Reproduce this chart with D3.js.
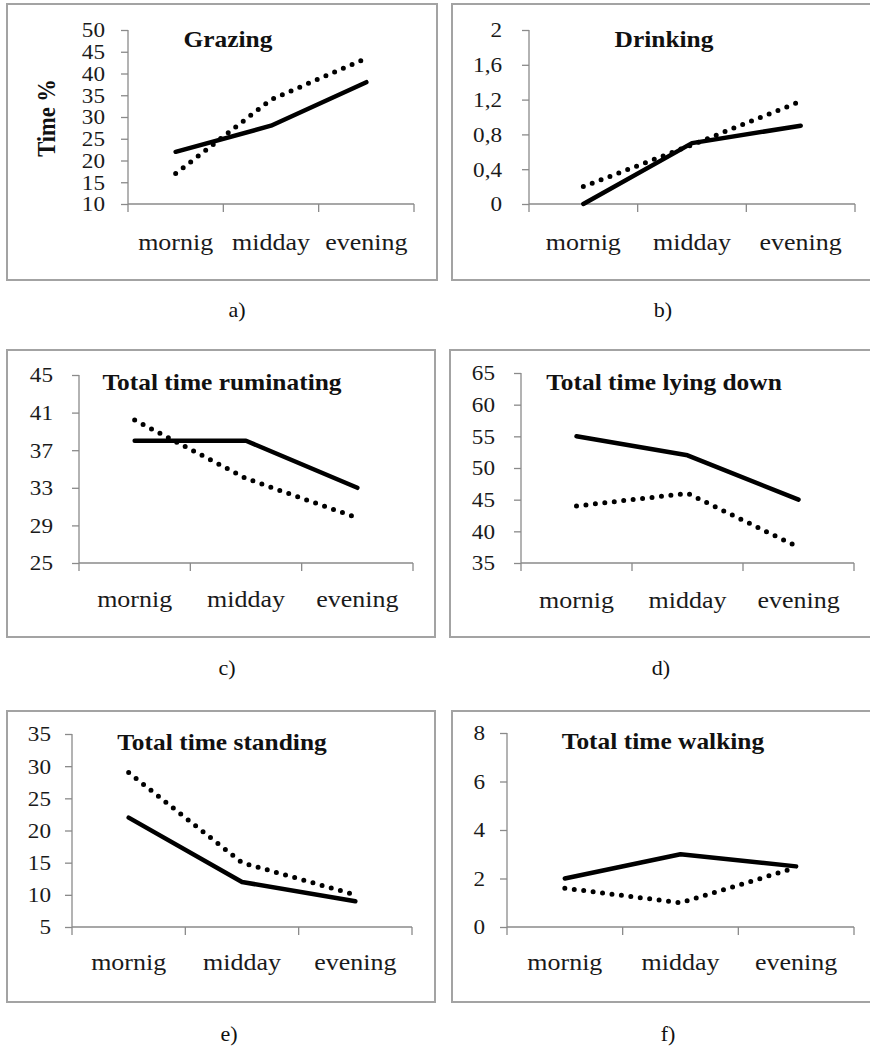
<!DOCTYPE html>
<html>
<head>
<meta charset="utf-8">
<script src="https://cdn.jsdelivr.net/npm/d3@7"></script>
<style>
html,body{margin:0;padding:0;background:#fff;}
svg{display:block;}
text{font-family:"Liberation Serif","Times New Roman",serif;fill:#111;}
</style>
</head>
<body>
<svg id="chart" width="870" height="1048"></svg>
<script>
// ---- data ----
const categories = ["mornig", "midday", "evening"];
const titles = ["Grazing", "Drinking", "Total time ruminating", "Total time lying down", "Total time standing", "Total time walking"];
const captions = ["a)", "b)", "c)", "d)", "e)", "f)"];
const yAxisTitle = "Time %";

const grazingSolid = [22, 28, 38];
const grazingDotted = [17, 34, 43.5];
const drinkingSolid = [0, 0.7, 0.9];
const drinkingDotted = [0.2, 0.68, 1.18];
const ruminatingSolid = [38, 38, 33];
const ruminatingDotted = [40.2, 34, 29.8];
const lyingSolid = [55, 52, 45];
const lyingDotted = [44, 46, 37.5];
const standingSolid = [22, 12, 9];
const standingDotted = [29, 15, 10];
const walkingSolid = [2, 3, 2.5];
const walkingDotted = [1.6, 1, 2.45];

const grazingTicks = [10, 15, 20, 25, 30, 35, 40, 45, 50];
const drinkingTicks = [0, 0.4, 0.8, 1.2, 1.6, 2];
const ruminatingTicks = [25, 29, 33, 37, 41, 45];
const lyingTicks = [35, 40, 45, 50, 55, 60, 65];
const standingTicks = [5, 10, 15, 20, 25, 30, 35];
const walkingTicks = [0, 2, 4, 6, 8];

const panelsData = [
  {solid: grazingSolid, dotted: grazingDotted, ticks: grazingTicks},
  {solid: drinkingSolid, dotted: drinkingDotted, ticks: drinkingTicks},
  {solid: ruminatingSolid, dotted: ruminatingDotted, ticks: ruminatingTicks},
  {solid: lyingSolid, dotted: lyingDotted, ticks: lyingTicks},
  {solid: standingSolid, dotted: standingDotted, ticks: standingTicks},
  {solid: walkingSolid, dotted: walkingDotted, ticks: walkingTicks}
];

// ---- layout ----
const layout = [
  {box:[7,4,437,280], ax:128, top:30, bot:204, right:414, titleX:228, titleY:47, xlabY:250, capX:237, capY:317, lblGap:23},
  {box:[452,4,880,280], ax:529, top:30, bot:204, right:855, titleX:664, titleY:47, xlabY:250, capX:663, capY:317, lblGap:27},
  {box:[7,350,435,637], ax:79, top:375, bot:563, right:413, titleX:222, titleY:390, xlabY:607, capX:227, capY:675, lblGap:26},
  {box:[450,350,880,637], ax:521, top:373, bot:563, right:854, titleX:664, titleY:390, xlabY:608, capX:661, capY:675, lblGap:26},
  {box:[7,711,435,1002], ax:72, top:734, bot:927, right:412, titleX:222, titleY:750, xlabY:970, capX:229, capY:1041, lblGap:21},
  {box:[452,711,880,1002], ax:507, top:733, bot:927, right:854, titleX:663, titleY:749, xlabY:970, capX:668, capY:1041, lblGap:22}
];

const SX = 1.13;
const svg = d3.select("#chart");
const fmtComma = v => String(v).replace(".", ",");

panelsData.forEach((pd, i) => {
  const L = layout[i];
  const g = svg.append("g");

  // frame
  g.append("rect")
    .attr("x", L.box[0]).attr("y", L.box[1])
    .attr("width", L.box[2] - L.box[0]).attr("height", L.box[3] - L.box[1])
    .attr("fill", "none").attr("stroke", "#a3a3a3").attr("stroke-width", 2);

  const x = d3.scaleBand().domain(categories).range([L.ax, L.right]).padding(0);
  const ext = d3.extent(pd.ticks);
  const y = d3.scaleLinear().domain(ext).range([L.bot, L.top]);

  // y axis
  const yAxis = d3.axisLeft(y).tickValues(pd.ticks).tickSize(7).tickFormat("");
  const yg = g.append("g").attr("transform", `translate(${L.ax},0)`).call(yAxis);
  yg.select(".domain").attr("d", `M0,${L.top}V${L.bot}`);
  yg.selectAll("line,path").attr("stroke", "#8a8a8a").attr("stroke-width", 1.3);

  // y tick labels
  const fmt = i === 1 ? fmtComma : d => String(d);
  g.selectAll(".ylab").data(pd.ticks).enter().append("text")
    .attr("transform", d => `translate(${L.ax - L.lblGap},${y(d)}) scale(${SX},1)`)
    .attr("dy", "0.36em")
    .attr("text-anchor", "end")
    .style("font-size", "20.5px")
    .style("fill", "#1a1a1a")
    .text(fmt);

  // x axis
  const xg = g.append("g").attr("transform", `translate(0,${L.bot})`);
  xg.append("line").attr("x1", L.ax).attr("x2", L.right).attr("y1", 0).attr("y2", 0)
    .attr("stroke", "#8a8a8a").attr("stroke-width", 1.3);
  const bounds = categories.map(c => x(c)).concat([x(categories[categories.length - 1]) + x.bandwidth()]);
  xg.selectAll(".xt").data(bounds).enter().append("line")
    .attr("x1", d => d).attr("x2", d => d).attr("y1", 0).attr("y2", 8)
    .attr("stroke", "#8a8a8a").attr("stroke-width", 1.3);

  g.selectAll(".xlab").data(categories).enter().append("text")
    .attr("transform", d => `translate(${x(d) + x.bandwidth() / 2},${L.xlabY}) scale(${SX},1)`)
    .attr("text-anchor", "middle")
    .style("font-size", "23px")
    .style("fill", "#1a1a1a")
    .text(d => d);

  // lines
  const line = d3.line().x((d, k) => x(categories[k]) + x.bandwidth() / 2).y(d => y(d));
  g.append("path").datum(pd.dotted).attr("d", line)
    .attr("fill", "none").attr("stroke", "#000").attr("stroke-width", 5)
    .attr("stroke-linecap", "round").attr("stroke-dasharray", "0 9.5");
  g.append("path").datum(pd.solid).attr("d", line)
    .attr("fill", "none").attr("stroke", "#000").attr("stroke-width", 4.5)
    .attr("stroke-linejoin", "round").attr("stroke-linecap", "round");

  // title
  g.append("text")
    .attr("transform", `translate(${L.titleX},${L.titleY}) scale(${SX},1)`)
    .attr("text-anchor", "middle")
    .style("font-size", "22.5px").style("font-weight", "bold")
    .text(titles[i]);

  // caption
  g.append("text")
    .attr("transform", `translate(${L.capX},${L.capY}) scale(1.05,1)`)
    .attr("text-anchor", "middle")
    .style("font-size", "21px")
    .text(captions[i]);
});

// y axis title for first panel
svg.append("text")
  .attr("transform", `translate(55,118) rotate(-90) scale(1,${SX})`)
  .attr("text-anchor", "middle")
  .style("font-size", "22.5px").style("font-weight", "bold")
  .text(yAxisTitle);
</script>
</body>
</html>
